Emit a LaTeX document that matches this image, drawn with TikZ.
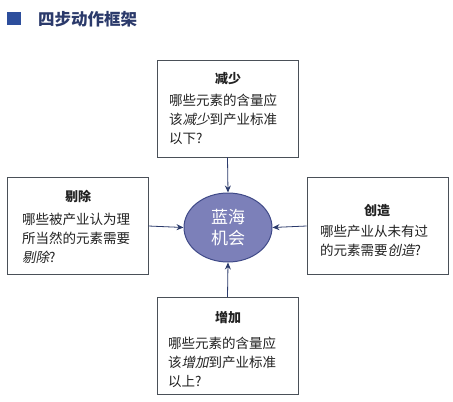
\documentclass[tikz,border=0pt]{standalone}
\usepackage{fontspec}
\usetikzlibrary{arrows.meta,shapes.geometric}
\newfontfamily\cjk{Noto Sans CJK SC}
\newfontfamily\cjkit[FakeSlant=0.2]{Noto Sans CJK SC}
\definecolor{navy}{HTML}{2B3A6B}
\definecolor{sqblue}{HTML}{2D4E9C}
\definecolor{boxline}{HTML}{4A5058}
\definecolor{txt}{HTML}{222222}
\definecolor{ellfill}{HTML}{7C80B9}
\definecolor{elldraw}{HTML}{404A88}
\begin{document}
\begin{tikzpicture}[x=1pt,y=-1pt,
  box/.style={draw=boxline,line width=0.8pt,minimum width=141pt,minimum height=97pt,inner sep=0pt},
  head/.style={font=\cjk\bfseries\fontsize{13}{15}\selectfont,text=txt,inner sep=0pt},
  body/.style={font=\cjk\fontsize{13.5}{19}\selectfont,text=txt,align=left,anchor=north west,inner sep=0pt},
  conn/.style={draw=navy,line width=0.8pt,-{Stealth[length=7pt,width=6pt]}}]
\useasboundingbox (0,0) rectangle (453,402);
\fill[white] (0,0) rectangle (453,402);
% title
\node[fill=sqblue,minimum width=14pt,minimum height=13pt,inner sep=0pt] (sq) at (14,18.5) {};
\node[anchor=west,inner sep=0pt,text=navy,font=\cjk\bfseries\fontsize{16.5}{18}\selectfont] (title) at (38,19) {四步动作框架};
% boxes
\node[box] (top) at (227.5,108.5) {};
\node[box] (left) at (77.5,226) {};
\node[box] (right) at (377.5,226) {};
\node[box] (bottom) at (227.5,346) {};
% ellipse
\node[ellipse,draw=elldraw,line width=1pt,fill=ellfill,minimum width=88pt,minimum height=69pt,inner sep=0pt,
  text=white,align=center,font=\cjk\fontsize{17}{21}\selectfont] (core) at (228,227.5) {蓝海\\机会};
% texts
\node[head] (toph) at (228,79) {减少};
\node[body] (topb) at (169,94) {哪些元素的含量应\\该{\cjkit 减少}到产业标准\\以下?};
\node[head] (lefth) at (78,196) {剔除};
\node[body] (leftb) at (22,213) {哪些被产业认为理\\所当然的元素需要\\{\cjkit 剔除}?};
\node[head] (righth) at (377,211) {创造};
\node[body] (rightb) at (320,225) {哪些产业从未有过\\的元素需要{\cjkit 创造}?};
\node[head] (bottomh) at (228,318) {增加};
\node[body] (bottomb) at (168,337) {哪些元素的含量应\\该{\cjkit 增加}到产业标准\\以上?};
% connectors
\draw[conn] (top.south) -- (core.north);
\draw[conn] (bottom.north) -- (core.south);
\draw[conn] (left.east) -- (core.west);
\draw[conn] (right.west) -- (core.east);
\end{tikzpicture}
\end{document}
